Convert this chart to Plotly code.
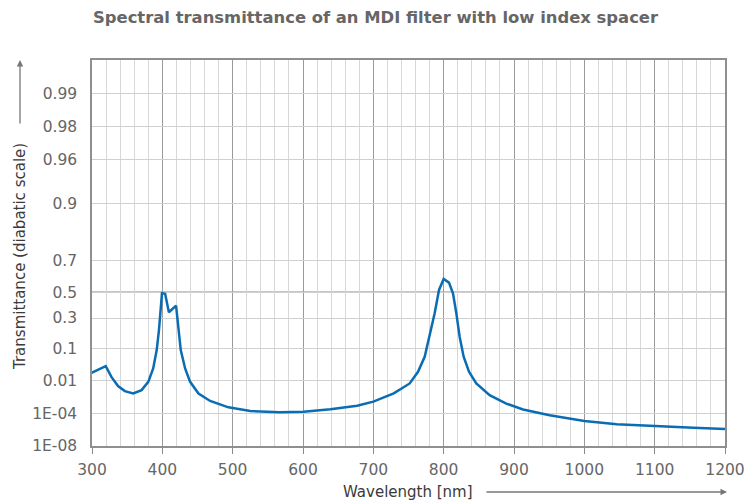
import numpy as np
import plotly.graph_objects as go

# ---- data ----
wavelength = [299, 319.5, 327.6, 337, 346.7, 358.6, 370.5, 380, 387, 392, 395.2, 397.6, 399.5, 404,
              409.3, 419.5, 422.9, 426.2, 432.4, 439.5, 451.4, 468, 494, 525, 567, 601, 639, 677,
              700, 729, 751.7, 763.5, 773, 780, 787.2, 793.4, 800, 807.6, 813.3, 818, 822.7, 828.4,
              836, 846.4, 865.4, 889, 912.8, 950.7, 975, 1000, 1046, 1101, 1155, 1200]
transmittance = [0.0208, 0.035, 0.0147, 0.0059, 0.0033, 0.00245, 0.0037, 0.0092, 0.0295, 0.0924,
                 0.211, 0.389, 0.492, 0.488, 0.345, 0.397, 0.211, 0.092, 0.0295, 0.0092, 0.00245,
                 8.7e-4, 3.1e-4, 1.6e-4, 1.26e-4, 1.4e-4, 2.2e-4, 4.1e-4, 7.8e-4, 0.0025, 0.0078,
                 0.0227, 0.064, 0.167, 0.337, 0.516, 0.593, 0.568, 0.49, 0.337, 0.167, 0.064, 0.0227,
                 0.0078, 0.00195, 5.8e-4, 2.1e-4, 7.1e-5, 3.7e-5, 2.0e-5, 9.1e-6, 5.5e-6, 3.9e-6, 2.7e-6]

y_tick_values = [1e-8, 1e-4, 0.01, 0.1, 0.3, 0.5, 0.7, 0.9, 0.96, 0.98, 0.99]
y_tick_labels = ["1E-08", "1E-04", "0.01", "0.1", "0.3", "0.5", "0.7", "0.9", "0.96", "0.98", "0.99"]
x_range = [300, 1200]
y_range_T = [1e-8, 0.9951]


def diabatic(t):
    t = np.asarray(t, dtype=float)
    return -np.log10(np.log10(1.0 / t))


GREY_TXT = "#666666"
DARK_TXT = "#3a3a3a"
FONT = "DejaVu Sans"

W, H = 747, 502
L, R, T, B = 92, 22, 60, 56
PW, PH = W - L - R, H - T - B

fig = go.Figure()
fig.add_trace(go.Scatter(
    x=wavelength, y=diabatic(transmittance), mode="lines",
    line=dict(color="#0a6db3", width=2.5),
    hoverinfo="skip", showlegend=False))

# emphasised 0.5 gridline
fig.add_shape(type="line", xref="paper", x0=0, x1=1, yref="y",
              y0=float(diabatic(0.5)), y1=float(diabatic(0.5)),
              line=dict(color="#8a8a8a", width=1.5), layer="below")

fig.update_layout(
    width=W, height=H,
    margin=dict(l=L, r=R, t=T, b=B, autoexpand=False),
    paper_bgcolor="white", plot_bgcolor="white",
    font=dict(family=FONT, color=GREY_TXT, size=15.5),
    title=dict(text="<b>Spectral transmittance of an MDI filter with low index spacer</b>",
               x=93 / W, xanchor="left", y=1 - 17 / H, yanchor="middle",
               font=dict(family=FONT, size=16.4, color=GREY_TXT)),
    xaxis=dict(range=x_range, dtick=100, tick0=300, showgrid=True, gridcolor="#9a9a9a", gridwidth=1,
               minor=dict(dtick=20, showgrid=True, gridcolor="#d8d8d8", gridwidth=1),
               ticks="outside", ticklen=6, tickcolor="#8a8a8a", ticklabelstandoff=3,
               showline=True, linecolor="#8f8f8f", linewidth=1.5, mirror=True, automargin=False,
               zeroline=False, tickfont=dict(size=15.5, color=GREY_TXT)),
    yaxis=dict(range=[float(diabatic(y_range_T[0])), float(diabatic(y_range_T[1]))],
               tickmode="array", tickvals=[float(v) for v in diabatic(y_tick_values)],
               ticktext=y_tick_labels, showgrid=True, gridcolor="#d0d0d0", gridwidth=1,
               ticks="", ticklabelstandoff=10, automargin=False,
               showline=True, linecolor="#8f8f8f", linewidth=1.5, mirror=True,
               zeroline=False, tickfont=dict(size=15.5, color=GREY_TXT)),
)

# axis titles with arrows
fig.add_annotation(text="Transmittance (diabatic scale)", textangle=-90, xref="paper", yref="paper",
                   x=(20 - L) / PW, y=(446 - 257) / PH, xanchor="center", yanchor="middle",
                   showarrow=False, font=dict(size=15, color=DARK_TXT, family=FONT))
fig.add_annotation(xref="paper", yref="paper", x=(20 - L) / PW, y=1.0, ax=0, ay=65,
                   showarrow=True, arrowhead=2, arrowsize=1, arrowwidth=1.3, arrowcolor="#777777", text="")
fig.add_annotation(text="Wavelength [nm]", xref="paper", yref="paper",
                   x=(408 - L) / PW, y=-(492 - 446) / PH, xanchor="center", yanchor="middle",
                   showarrow=False, font=dict(size=15, color=DARK_TXT, family=FONT))
fig.add_annotation(xref="paper", yref="paper", x=(727 - L) / PW, y=-(492 - 446) / PH,
                   ax=-242, ay=0, showarrow=True, arrowhead=2, arrowsize=1, arrowwidth=1.3,
                   arrowcolor="#777777", text="")

fig.write_html("out.html", config={"displayModeBar": False},
               post_script="document.body.style.margin='0';document.body.style.overflow='hidden';")
